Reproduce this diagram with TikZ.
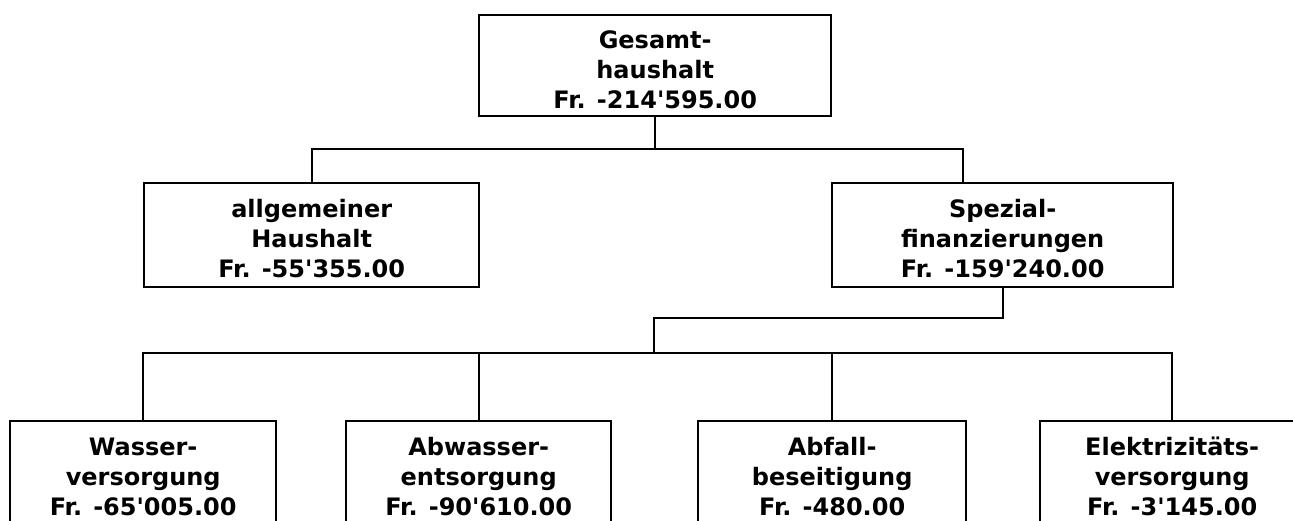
\documentclass[tikz,border=0pt]{standalone}
\usepackage{fontspec}
\setmainfont{DejaVu Sans}[Ligatures=TeXOff]
\begin{document}
\begin{tikzpicture}[x=1pt,y=-1pt,
  box/.style={draw, line width=2.4pt, inner sep=0pt, anchor=north west},
  lbl/.style={inner sep=0pt, anchor=north, align=center,
    font=\fontsize{24}{30}\selectfont\bfseries},
  conn/.style={draw, line width=2.4pt}]
\useasboundingbox (0,0) rectangle (1293,520);
\clip (0,0) rectangle (1293,520);
\fill[white] (0,0) rectangle (1293,520);
\newcommand{\fst}{\rule{0pt}{20pt}}
% boxes
\node[box, minimum width=352pt, minimum height=101pt] (T) at (478,14) {};
\node[box, minimum width=335pt, minimum height=104pt] (A) at (143,182) {};
\node[box, minimum width=341pt, minimum height=104pt] (S) at (831,182) {};
\node[box, minimum width=266pt, minimum height=101pt] (W1) at (9,420) {};
\node[box, minimum width=265pt, minimum height=101pt] (W2) at (345,420) {};
\node[box, minimum width=268pt, minimum height=101pt] (W3) at (697,420) {};
\node[box, minimum width=264pt, minimum height=101pt] (W4) at (1039,420) {};
% labels
\node[lbl] (Tt) at ([yshift=-14pt]T.north) {\fst Gesamt-\\haushalt\\Fr. -214'595.00};
\node[lbl] (At) at ([yshift=-15pt]A.north) {\fst allgemeiner\\Haushalt\\Fr. -55'355.00};
\node[lbl] (St) at ([yshift=-15pt]S.north) {\fst Spezial-\\finanzierungen\\Fr. -159'240.00};
\node[lbl] (W1t) at ([yshift=-15pt]W1.north) {\fst Wasser-\\versorgung\\Fr. -65'005.00};
\node[lbl] (W2t) at ([yshift=-15pt]W2.north) {\fst Abwasser-\\entsorgung\\Fr. -90'610.00};
\node[lbl] (W3t) at ([yshift=-15pt]W3.north) {\fst Abfall-\\beseitigung\\Fr. -480.00};
\node[lbl] (W4t) at ([yshift=-15pt]W4.north) {\fst Elektrizitäts-\\versorgung\\Fr. -3'145.00};
% junction coordinates
\coordinate (j1) at (654,149);
\coordinate (sIn) at (963,182);
\coordinate (k1) at (654,318);
\coordinate (bus) at (654,353);
% connectors
\draw[conn] (T.south) -- (T.south |- j1);
\draw[conn] (A.north) |- (j1) -| (sIn);
\draw[conn] (S.south) |- (k1) -- (bus);
\draw[conn] (W1.north) |- (bus) -| (W4.north);
\draw[conn] (W2.north) -- (W2.north |- bus);
\draw[conn] (W3.north) -- (W3.north |- bus);
\end{tikzpicture}
\end{document}
